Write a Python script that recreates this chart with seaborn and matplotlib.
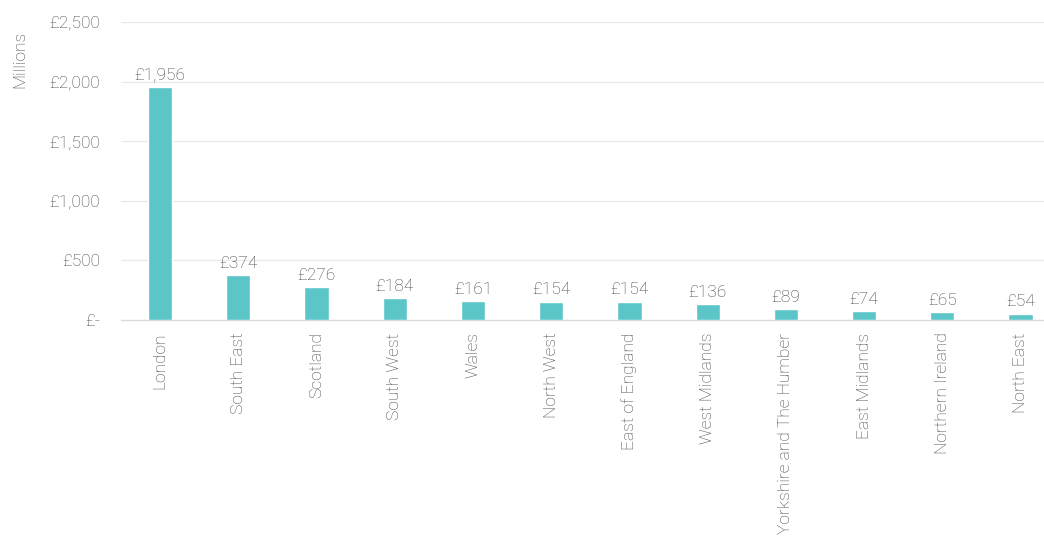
import matplotlib
matplotlib.use("Agg")
import matplotlib.pyplot as plt
import seaborn as sns
import pandas as pd

regions = ["London", "South East", "Scotland", "South West", "Wales", "North West",
           "East of England", "West Midlands", "Yorkshire and The Humber",
           "East Midlands", "Northern Ireland", "North East"]
values = [1956, 374, 276, 184, 161, 154, 154, 136, 89, 74, 65, 54]
ytick_vals = [0, 500, 1000, 1500, 2000, 2500]
ytick_labels = ["£-", "£500", "£1,000", "£1,500", "£2,000", "£2,500"]

sns.set_theme(style="white")
plt.rcParams['font.family'] = ['Roboto', 'DejaVu Sans']
plt.rcParams['font.weight'] = 'light'

df = pd.DataFrame({"region": regions, "value": values})

fig = plt.figure(figsize=(10.44, 5.55), dpi=100)
ax = fig.add_axes([121/1044, (555-320)/555, 1 - 121/1044, (320-22)/555])

teal = "#5BC5C8"
text_col = "#444444"

sns.barplot(data=df, x="region", y="value", color=teal, width=0.31, ax=ax,
            saturation=1, zorder=3)

ax.set_ylim(0, 2500)
ax.set_xlim(-0.5, 11.3)
ax.set_yticks(ytick_vals)
ax.set_yticklabels(ytick_labels, color=text_col, fontsize=12.5, fontweight='light')
ax.tick_params(axis='y', length=0, pad=15)
ax.tick_params(axis='x', length=0, pad=9)
ax.set_xticks(range(len(regions)))
ax.set_xticklabels(regions, rotation=90, color=text_col, fontsize=12.5, va='top',
                   fontweight='light')
ax.set_xlabel("")
ax.set_ylabel("")
ax.yaxis.grid(True, color="#e9e9e9", linewidth=0.9, zorder=0)
ax.xaxis.grid(False)
for s in ["top", "right", "left"]:
    ax.spines[s].set_visible(False)
ax.spines["bottom"].set_color("#d9d9d9")
ax.spines["bottom"].set_linewidth(0.9)

for i, v in enumerate(values):
    ax.annotate(f"£{v:,}", (i, v), xytext=(0, 3), textcoords="offset points",
                ha="center", va="bottom", fontsize=12.5, color=text_col,
                fontweight='light')

fig.text(20/1044, 1 - 59/555, "Millions", rotation=90, ha="center", va="center",
         fontsize=12.5, color=text_col, fontweight='light')

fig.savefig("out.png", dpi=100)
